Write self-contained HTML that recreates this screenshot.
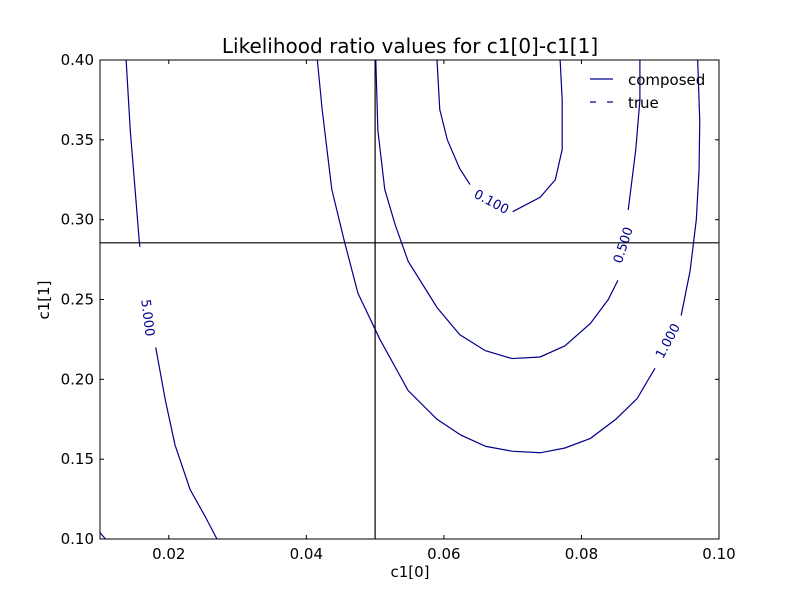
<!DOCTYPE html>
<html><head><meta charset="utf-8"><style>
body{margin:0;background:#fff;}
svg text{font-family:"DejaVu Sans","Liberation Sans",sans-serif;}
</style></head><body>
<svg id="chart" width="800" height="600">
<rect x="0" y="0" width="800" height="600" fill="#fff"/>
<text x="410" y="53" font-size="20" text-anchor="middle">Likelihood ratio values for c1[0]-c1[1]</text>
<g id="marks"></g>
<g id="axes"></g>
</svg>
<script>
const xTicks=[0.02,0.04,0.06,0.08,0.10];
const yTicks=[0.10,0.15,0.20,0.25,0.30,0.35,0.40];
const trueX=0.05, trueY=0.2855;
const c5a_x=[0.0138,0.0144,0.0151,0.0157,0.0158];
const c5a_y=[0.40,0.356,0.319,0.287,0.283];
const c5b_x=[0.0181,0.0195,0.0209,0.0231,0.0253,0.0270];
const c5b_y=[0.220,0.187,0.159,0.131,0.114,0.100];
const c5c_x=[0.0100,0.0108];
const c5c_y=[0.104,0.100];
const c1a_x=[0.0416,0.0423,0.0437,0.0455,0.0475,0.0507,0.0548,0.0590,0.0625,0.0661,0.0699,0.0740,0.0776,0.0813,0.0850,0.0881,0.0907];
const c1a_y=[0.40,0.369,0.319,0.287,0.254,0.225,0.193,0.175,0.165,0.158,0.155,0.154,0.157,0.163,0.175,0.188,0.207];
const c1b_x=[0.0945,0.0958,0.0967,0.0971,0.0972,0.0969];
const c1b_y=[0.240,0.268,0.300,0.331,0.362,0.40];
const c05a_x=[0.0501,0.0504,0.0514,0.0529,0.0548,0.0590,0.0623,0.0660,0.0699,0.0740,0.0776,0.0813,0.0839,0.0853];
const c05a_y=[0.40,0.356,0.319,0.297,0.274,0.245,0.228,0.218,0.213,0.214,0.221,0.235,0.250,0.262];
const c05b_x=[0.0868,0.0879,0.0885,0.0885];
const c05b_y=[0.306,0.344,0.375,0.40];
const c01a_x=[0.0590,0.0594,0.0605,0.0623,0.0638];
const c01a_y=[0.40,0.369,0.350,0.332,0.322];
const c01b_x=[0.0700,0.0740,0.0762,0.0772,0.0772,0.0769];
const c01b_y=[0.305,0.314,0.325,0.344,0.375,0.40];
const labels=["5.000","1.000","0.500","0.100"];
const labelX=[0.0169,0.0926,0.0861,0.0669];
const labelY=[0.2385,0.224,0.284,0.311];
const labelRot=[83,-62,-72,28];

const X0=100,X1=719,Y0=539,Y1=60;
const sx=v=>X0+(v-0.01)/(0.10-0.01)*(X1-X0);
const sy=v=>Y0-(v-0.10)/(0.40-0.10)*(Y0-Y1);
const NS="http://www.w3.org/2000/svg";
const marks=document.getElementById('marks');
const axes=document.getElementById('axes');
function mk(tag,attrs,parent){const e=document.createElementNS(NS,tag);for(const k in attrs)e.setAttribute(k,attrs[k]);parent.appendChild(e);return e;}
const lines=[[c5a_x,c5a_y,'5'],[c5b_x,c5b_y,'5'],[c5c_x,c5c_y,'5'],[c1a_x,c1a_y,'1'],[c1b_x,c1b_y,'1'],[c05a_x,c05a_y,'05'],[c05b_x,c05b_y,'05'],[c01a_x,c01a_y,'01'],[c01b_x,c01b_y,'01']];
lines.forEach(([xs,ys,n])=>{
  const p=mk('polyline',{points:xs.map((x,i)=>sx(x)+','+sy(ys[i])).join(' '),fill:'none',stroke:'#00008b','stroke-width':1.2},marks);
  
  
});
labels.forEach((t,i)=>{
  const e=mk('text',{x:sx(labelX[i]),y:sy(labelY[i])+4,'font-size':13,fill:'#00008b','text-anchor':'middle',transform:`rotate(${labelRot[i]} ${sx(labelX[i])} ${sy(labelY[i])})`},marks);
  e.textContent=t;
  
  
});
const v=mk('line',{x1:sx(trueX),x2:sx(trueX),y1:Y1,y2:Y0,stroke:'#000','stroke-width':1.2},marks);


const h=mk('line',{x1:X0,x2:X1,y1:sy(trueY),y2:sy(trueY),stroke:'#000','stroke-width':1.2},marks);


const fr=mk('rect',{x:X0,y:Y1,width:X1-X0,height:Y0-Y1,fill:'none',stroke:'#000','stroke-width':1},axes);


xTicks.forEach(t=>{
  const x=sx(t);
  mk('line',{x1:x,x2:x,y1:Y0,y2:Y0-4,stroke:'#000'},axes);
  mk('line',{x1:x,x2:x,y1:Y1,y2:Y1+4,stroke:'#000'},axes);
  const e=mk('text',{x:x,y:Y0+20,'font-size':15,'text-anchor':'middle'},axes);
  e.textContent=t.toFixed(2);
  
  
});
yTicks.forEach(t=>{
  const y=sy(t);
  mk('line',{x1:X0,x2:X0+4,y1:y,y2:y,stroke:'#000'},axes);
  mk('line',{x1:X1,x2:X1-4,y1:y,y2:y,stroke:'#000'},axes);
  const e=mk('text',{x:X0-6,y:y+5,'font-size':15,'text-anchor':'end'},axes);
  e.textContent=t.toFixed(2);
  
  
});
const xl=mk('text',{x:410,y:577,'font-size':15,'text-anchor':'middle'},axes);
xl.textContent='c1[0]';


const yl=mk('text',{x:49,y:300,'font-size':15,'text-anchor':'middle',transform:'rotate(-90 49 300)'},axes);
yl.textContent='c1[1]';


const lg=mk('g',{},axes);


mk('line',{x1:590,x2:613,y1:79,y2:79,stroke:'#00008b','stroke-width':1.2},lg);
mk('line',{x1:590,x2:613,y1:102,y2:102,stroke:'#00008b','stroke-width':1.2,'stroke-dasharray':'6,11'},lg);
const t1=mk('text',{x:628,y:85,'font-size':15},lg);t1.textContent='composed';


const t2=mk('text',{x:628,y:108,'font-size':15},lg);t2.textContent='true';


</script>
</body></html>
